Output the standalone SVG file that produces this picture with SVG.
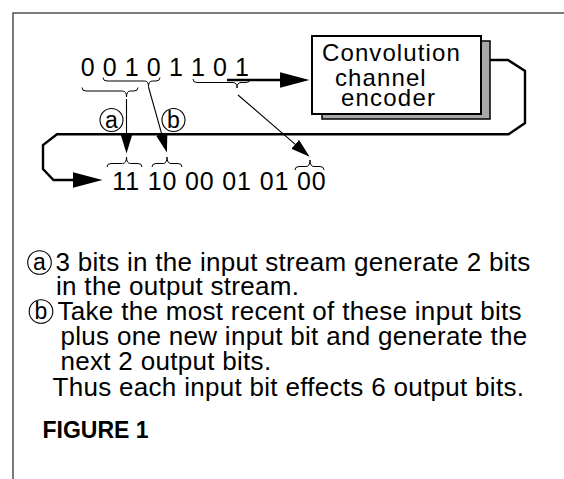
<svg xmlns="http://www.w3.org/2000/svg" width="564" height="479" viewBox="0 0 564 479">
  <style>
    text { font-family: "Liberation Sans", Arial, Helvetica, sans-serif; fill: #000; }
    .bits { font-size: 25px; }
    .box-label { font-size: 24px; }
    .body { font-size: 26px; letter-spacing: 0.3px; }
    .tag { font-size: 23px; text-anchor: middle; }
    .fig { font-size: 23px; font-weight: bold; }
    .thin { fill: none; stroke: #000; stroke-width: 1.1; }
    .thick { fill: none; stroke: #000; stroke-width: 2.4; stroke-linejoin: miter; }
    .brace { fill: none; stroke: #000; stroke-width: 1; }
    .ring { fill: #fff; stroke: #000; stroke-width: 1.1; }
    .frame { fill: none; stroke: #505050; stroke-width: 1.5; }
  </style>
  <defs>
    <marker id="head-small" viewBox="0 -6 19 12" markerWidth="19" markerHeight="12" refX="0.5" refY="0" markerUnits="userSpaceOnUse" orient="auto">
      <path d="M0,-5.8 L19,0 L0,5.8 Z" fill="#000"/>
    </marker>
    <marker id="head-large" viewBox="0 -8 30 16" markerWidth="30" markerHeight="16" refX="0.5" refY="0" markerUnits="userSpaceOnUse" orient="auto">
      <path d="M0,-8 L30,0 L0,8 Z" fill="#000"/>
    </marker>
  </defs>

  <!-- page frame -->
  <path class="frame" d="M13,479 V13 H564"/>

  <!-- connectors -->
  <g id="connectors">
    <!-- input stream into the encoder -->
    <line class="thick" x1="227" y1="80" x2="280" y2="80" marker-end="url(#head-large)"/>
    <!-- encoder output looping back to the output stream -->
    <polyline class="thick" points="481,60 508,60 525,71 525,123 508.5,134.3 57,134.3 43,145 43,169 53.5,180 73,180" marker-end="url(#head-large)"/>
    <!-- (a): first three input bits to first output pair -->
    <line class="thin" x1="126.5" y1="99" x2="126.5" y2="135" marker-end="url(#head-small)"/>
    <!-- (b): next window to second output pair -->
    <line class="thin" x1="148.5" y1="87" x2="161.9" y2="134.7" marker-end="url(#head-small)"/>
    <!-- last three input bits to last output pair -->
    <line class="thin" x1="238" y1="95" x2="295.6" y2="144.6" marker-end="url(#head-small)"/>
  </g>

  <!-- input bit stream with its grouping braces -->
  <g id="input-stream">
    <text class="bits" x="80.7" y="75.5" letter-spacing="0.6">0 0 1 0 1 1 0 1</text>
    <path class="brace" d="M82,87.5 Q82,91 86,91 L122.5,91 Q126.5,91 126.5,97 Q126.5,91 130.5,91 L134,91 Q138,91 138,87.5"/>
    <path class="brace" d="M103,77.5 Q103,81 107,81 L144.5,81 Q148.5,81 148.5,86.5 Q148.5,81 152.5,81 L156,81 Q160,81 160,77.5"/>
    <path class="brace" d="M193,79 Q193,82.5 197,82.5 L233,82.5 Q237,82.5 237,88 Q237,82.5 241,82.5 L246,82.5 Q250,82.5 250,79"/>
  </g>

  <!-- convolution channel encoder block -->
  <g id="encoder">
    <rect x="322" y="41" width="168" height="78" fill="#a8a8a8" stroke="#000" stroke-width="1.5"/>
    <rect x="312" y="36" width="169" height="78" fill="#fff" stroke="#000" stroke-width="2"/>
    <text class="box-label" letter-spacing="1.1">
      <tspan x="322" y="60.5">Convolution</tspan>
      <tspan x="335" y="86">channel</tspan>
      <tspan x="341" y="106" letter-spacing="1.2">encoder</tspan>
    </text>
  </g>

  <!-- output bit stream with its grouping braces -->
  <g id="output-stream">
    <text class="bits" x="112.3" y="190" letter-spacing="0.85">11 10 00 01 01 00</text>
    <path class="brace" d="M107,167 Q107,163.5 111,163.5 L122.5,163.5 Q126.5,163.5 126.5,157 Q126.5,163.5 130.5,163.5 L138,163.5 Q142,163.5 142,167"/>
    <path class="brace" d="M152,167 Q152,163.5 156,163.5 L163,163.5 Q167,163.5 167,157 Q167,163.5 171,163.5 L178,163.5 Q182,163.5 182,167"/>
    <path class="brace" d="M295,170 Q295,166.5 299,166.5 L306,166.5 Q310,166.5 310,160 Q310,166.5 314,166.5 L320,166.5 Q324,166.5 324,170"/>
  </g>

  <!-- step markers -->
  <g id="tag-a">
    <circle class="ring" cx="111.5" cy="120" r="11.5"/>
    <text class="tag" x="111.5" y="127.5">a</text>
  </g>
  <g id="tag-b">
    <circle class="ring" cx="173.5" cy="120" r="11.5"/>
    <text class="tag" x="173.5" y="127.5">b</text>
  </g>

  <!-- explanatory notes -->
  <g id="note-a">
    <circle class="ring" cx="39.5" cy="262.5" r="11.8"/>
    <text class="tag" x="39.5" y="270">a</text>
    <text class="body">
      <tspan x="55.5" y="271">3 bits in the input stream generate 2 bits</tspan>
      <tspan x="56" y="295">in the output stream.</tspan>
    </text>
  </g>
  <g id="note-b">
    <circle class="ring" cx="41" cy="311.5" r="11.8"/>
    <text class="tag" x="41" y="319">b</text>
    <text class="body">
      <tspan x="57.5" y="320">Take the most recent of these input bits</tspan>
      <tspan x="60.5" y="345">plus one new input bit and generate the</tspan>
      <tspan x="60.5" y="370">next 2 output bits.</tspan>
    </text>
  </g>
  <g id="note-summary">
    <text class="body" x="52.5" y="396">Thus each input bit effects 6 output bits.</text>
  </g>
  <g id="caption">
    <text class="fig" x="42.5" y="438">FIGURE 1</text>
  </g>
</svg>
